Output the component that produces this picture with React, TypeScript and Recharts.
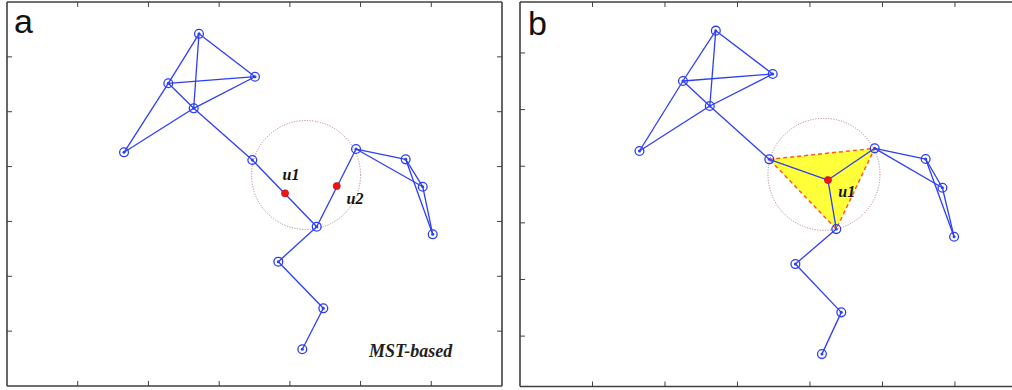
import React from 'react';
import { ScatterChart, Scatter, XAxis, YAxis, ReferenceDot } from 'recharts';

const BLUE = '#2d3ef6';
const AXIS = '#404040';
const TICKS = [1, 2, 3, 4, 5, 6];

// panel a (MST-based)
const nodesA = [
  { x: 2.715, y: 6.42 },
  { x: 3.507, y: 5.638 },
  { x: 2.281, y: 5.518 },
  { x: 2.64, y: 5.062 },
  { x: 1.655, y: 4.26 },
  { x: 3.469, y: 4.12 },
  { x: 4.38, y: 2.904 },
  { x: 4.936, y: 4.32 },
  { x: 5.638, y: 4.132 },
  { x: 5.879, y: 3.633 },
  { x: 6.02, y: 2.765 },
  { x: 3.837, y: 2.266 },
  { x: 4.473, y: 1.416 },
  { x: 4.176, y: 0.669 },
];
const edgesA = [
  [0, 2], [0, 1], [0, 3], [2, 1], [2, 3], [3, 1], [2, 4], [4, 3], [3, 5],
  [5, 6], [6, 7], [7, 8], [7, 9], [8, 9], [8, 10], [9, 10], [6, 11], [11, 12], [12, 13],
];
const redA = [
  { x: 3.932, y: 3.513 },
  { x: 4.663, y: 3.646 },
];
const circleA = { x: 4.229, y: 3.846 };
const labelsA = [
  { x: 4.016, y: 3.755, text: 'u1' },
  { x: 4.921, y: 3.318, text: 'u2' },
];
const noteA = [{ x: 5.709, y: 0.534, text: 'MST-based' }];

// panel b
const nodesB = [
  { x: 2.701, y: 6.394 },
  { x: 3.486, y: 5.629 },
  { x: 2.248, y: 5.505 },
  { x: 2.618, y: 5.064 },
  { x: 1.648, y: 4.269 },
  { x: 3.439, y: 4.122 },
  { x: 4.893, y: 4.316 },
  { x: 4.363, y: 2.89 },
  { x: 5.596, y: 4.127 },
  { x: 5.827, y: 3.62 },
  { x: 5.988, y: 2.754 },
  { x: 3.799, y: 2.272 },
  { x: 4.432, y: 1.419 },
  { x: 4.165, y: 0.682 },
];
const edgesB = [
  [0, 2], [0, 1], [0, 3], [2, 1], [2, 3], [3, 1], [2, 4], [4, 3], [3, 5],
  [6, 8], [6, 9], [8, 9], [8, 10], [9, 10], [7, 11], [11, 12], [12, 13],
];
const centerB = { x: 4.248, y: 3.756 };
const spokesB = [5, 6, 7];
const triangleB = [5, 6, 7];
const circleB = { x: 4.193, y: 3.857 };
const labelsB = [{ x: 4.508, y: 3.456, text: 'u1' }];

const NodeMark = (p: any) => (
  <g>
    <circle cx={p.cx} cy={p.cy} r={4.4} fill="none" stroke={BLUE} strokeWidth={1.3} />
    <circle cx={p.cx} cy={p.cy} r={1.5} fill={BLUE} />
  </g>
);

const RedMark = (p: any) => (
  <circle cx={p.cx} cy={p.cy} r={3.6} fill="#ee1515" stroke="#b01010" strokeWidth={0.6} />
);

const NoMark = () => <g />;

const uLabel = (p: any) => (
  <text
    x={p.cx}
    y={p.cy}
    textAnchor="middle"
    fontFamily="'Liberation Serif', 'DejaVu Serif', serif"
    fontStyle="italic"
    fontWeight="bold"
    fontSize={16}
    fill="#111"
  >
    {p.payload.text}
  </text>
);

const noteLabel = (p: any) => (
  <text
    x={p.cx}
    y={p.cy}
    textAnchor="middle"
    fontFamily="'Liberation Serif', 'DejaVu Serif', serif"
    fontStyle="italic"
    fontWeight="bold"
    fontSize={18}
    fill="#222"
  >
    {p.payload.text}
  </text>
);

const triangleShape = (props: any) => {
  const pts = props.points.map((pt: any) => `${pt.x},${pt.y}`).join(' ');
  return (
    <polygon
      points={pts}
      fill="#ffff3a"
      stroke="#ff5a26"
      strokeWidth={1.5}
      strokeDasharray="4 3"
    />
  );
};

// tick labels are hidden, only the tick marks stay
const NoTick = () => <g />;

// inward ticks on every side, matlab style; each axis takes 1px so it gets drawn
function axes(xDomain: number[], yDomain: number[], withRight: boolean) {
  const tickLine = { stroke: AXIS, strokeWidth: 1 };
  const axisLine = { stroke: AXIS, strokeWidth: 1.6 };
  return [
    <XAxis
      key="xb"
      type="number"
      dataKey="x"
      domain={xDomain}
      allowDataOverflow
      ticks={TICKS}
      tick={NoTick}
      tickSize={-5}
      height={1}
      axisLine={axisLine}
      tickLine={tickLine}
    />,
    <XAxis
      key="xt"
      xAxisId="top"
      orientation="top"
      type="number"
      dataKey="x"
      domain={xDomain}
      allowDataOverflow
      ticks={TICKS}
      tick={NoTick}
      tickSize={-5}
      height={1}
      axisLine={axisLine}
      tickLine={tickLine}
    />,
    <YAxis
      key="yl"
      type="number"
      dataKey="y"
      domain={yDomain}
      allowDataOverflow
      ticks={TICKS}
      tick={NoTick}
      tickSize={-5}
      width={1}
      axisLine={axisLine}
      tickLine={tickLine}
    />,
    withRight ? (
      <YAxis
        key="yr"
        yAxisId="right"
        orientation="right"
        type="number"
        dataKey="y"
        domain={yDomain}
        allowDataOverflow
        ticks={TICKS}
        tick={NoTick}
        tickSize={-5}
        width={1}
        axisLine={axisLine}
        tickLine={tickLine}
      />
    ) : null,
  ];
}

function edgeSeries(pairs: { x: number; y: number }[][], prefix: string) {
  return pairs.map((pair, i) => (
    <Scatter
      key={`${prefix}-${i}`}
      data={pair}
      fill={BLUE}
      line={{ stroke: BLUE, strokeWidth: 1.3 }}
      shape={NoMark}
      isAnimationActive={false}
    />
  ));
}

const panelLetter: React.CSSProperties = {
  position: 'absolute',
  fontFamily: "'Liberation Sans', Arial, sans-serif",
  fontSize: 34,
  lineHeight: '34px',
  color: '#111',
};

export default function App() {
  const pairsA = edgesA.map(([a, b]) => [nodesA[a], nodesA[b]]);
  const pairsB = [
    ...edgesB.map(([a, b]) => [nodesB[a], nodesB[b]]),
    ...spokesB.map((n) => [centerB, nodesB[n]]),
  ];
  const triData = triangleB.map((n) => nodesB[n]);

  return (
    <div
      style={{
        position: 'absolute',
        left: 0,
        top: 0,
        width: 1012,
        height: 390,
        background: '#fff',
        overflow: 'hidden',
      }}
    >
      <div style={{ position: 'absolute', left: 0, top: 0 }}>
        <ScatterChart width={512} height={390} margin={{ top: 1, right: 9, bottom: 3, left: 6 }}>
          {axes([0, 7], [0, 7], true)}
          <ReferenceDot
            x={circleA.x}
            y={circleA.y}
            r={54.5}
            fill="none"
            stroke="#b07878"
            strokeWidth={1}
            strokeDasharray="1 1.6"
          />
          {edgeSeries(pairsA, 'ea')}
          <Scatter data={nodesA} shape={NodeMark} isAnimationActive={false} />
          <Scatter data={redA} shape={RedMark} isAnimationActive={false} />
          <Scatter data={labelsA} shape={uLabel} isAnimationActive={false} />
          <Scatter data={noteA} shape={noteLabel} isAnimationActive={false} />
        </ScatterChart>
      </div>
      <div style={{ position: 'absolute', left: 512, top: 0 }}>
        {/* panel b runs past the right edge of the picture, as in the source */}
        <ScatterChart width={510} height={390} margin={{ top: 1, right: 0, bottom: 2.5, left: 7 }}>
          {axes([0, 6.925], [0.11, 6.9], false)}
          <Scatter data={triData} shape={NoMark} line={triangleShape} isAnimationActive={false} />
          <ReferenceDot
            x={circleB.x}
            y={circleB.y}
            r={56}
            fill="none"
            stroke="#b07878"
            strokeWidth={1}
            strokeDasharray="1 1.6"
          />
          {edgeSeries(pairsB, 'eb')}
          <Scatter data={nodesB} shape={NodeMark} isAnimationActive={false} />
          <Scatter data={[centerB]} shape={RedMark} isAnimationActive={false} />
          <Scatter data={labelsB} shape={uLabel} isAnimationActive={false} />
        </ScatterChart>
      </div>
      <div style={{ ...panelLetter, left: 14, top: 4 }}>a</div>
      <div style={{ ...panelLetter, left: 528, top: 6 }}>b</div>
    </div>
  );
}
